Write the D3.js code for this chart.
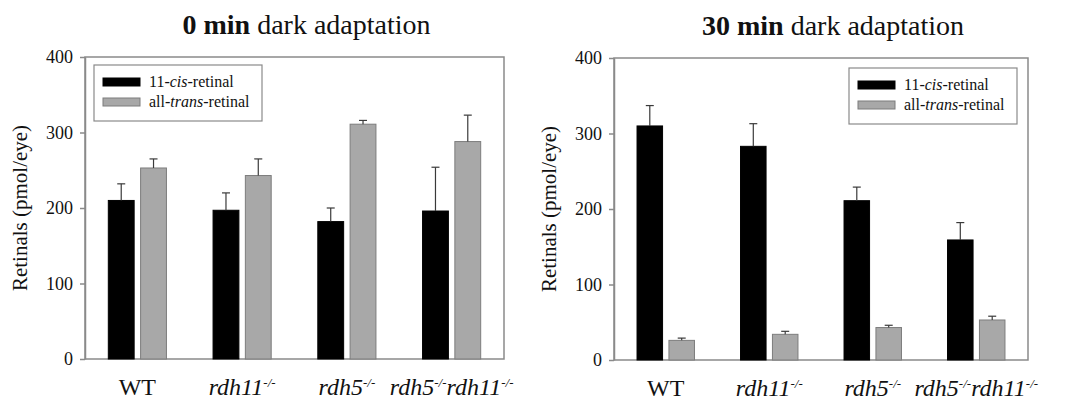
<!DOCTYPE html>
<html><head><meta charset="utf-8">
<script src="https://cdn.jsdelivr.net/npm/d3@7"></script>
<style>
body{margin:0;background:#fff;}
svg, svg text{font-family:"Liberation Serif","DejaVu Serif","Times New Roman",serif;}
</style></head>
<body><svg id="c" width="1073" height="403"></svg>
<script>
// ---- data ----
const categories = ["WT", "rdh11", "rdh5", "rdh5rdh11"];
const series = ["cis", "trans"];
const yTicks = [0, 100, 200, 300, 400];
// 0 min dark adaptation
const cis0 = [210, 197, 182, 196];
const cis0Err = [22, 23, 18, 58];
const trans0 = [253, 243, 311, 288];
const trans0Err = [12, 22, 5, 35];
// 30 min dark adaptation
const cis30 = [310, 283, 211, 159];
const cis30Err = [27, 30, 18, 23];
const trans30 = [26, 34, 43, 53];
const trans30Err = [3, 4, 3, 5];

const FONT = "Liberation Serif, DejaVu Serif, Times New Roman, serif";
const svg = d3.select("#c");
const colors = {cis: "#000000", trans: "#a8a8a8"};
const strokes = {cis: "#000000", trans: "#7d7d7d"};
const frameColor = "#8a8a8a";

// x label parts: [text, italic, superscript]
const xLabelParts = {
  WT: [["WT", false, false]],
  rdh11: [["rdh11", true, false], ["-/-", true, true]],
  rdh5: [["rdh5", true, false], ["-/-", true, true]],
  rdh5rdh11: [["rdh5", true, false], ["-/-", true, true], ["rdh11", true, false], ["-/-", true, true]]
};

function panel(opts) {
  const {x0, x1, y0, y1, cis, cisErr, trans, transErr, titleBold, legendX, legendY} = opts;
  const g = svg.append("g").attr("font-family", FONT);
  const y = d3.scaleLinear().domain([0, 400]).range([y1, y0]);
  const xb = d3.scaleBand().domain(categories).range([x0, x1]);
  const pairW = xb.bandwidth() * 0.555;
  const xs = d3.scaleBand().domain(series).range([0, pairW]).paddingInner(0.2);
  const off = (xb.bandwidth() - pairW) / 2;

  // frame
  g.append("rect").attr("x", x0).attr("y", y0).attr("width", x1 - x0).attr("height", y1 - y0)
    .attr("fill", "none").attr("stroke", frameColor).attr("stroke-width", 1.5);

  // y axis
  const ax = g.append("g").attr("transform", `translate(${x0},0)`)
    .call(d3.axisLeft(y).tickValues(yTicks).tickSize(5).tickSizeOuter(0).tickPadding(7));
  ax.attr("font-family", FONT).attr("font-size", 18);
  ax.select(".domain").attr("stroke", frameColor).attr("stroke-width", 1.5);
  ax.selectAll(".tick line").attr("stroke", frameColor).attr("stroke-width", 1.5);
  ax.selectAll(".tick text").attr("font-family", FONT).attr("font-size", 18).attr("fill", "#111");

  // y title
  g.append("text").attr("transform", `translate(${x0 - 58},${(y0 + y1) / 2}) rotate(-90)`)
    .attr("text-anchor", "middle").attr("font-family", FONT).attr("font-size", 21).attr("fill", "#111")
    .text("Retinals (pmol/eye)");

  // bars
  const data = [];
  categories.forEach((c, i) => {
    data.push({c, s: "cis", v: cis[i], e: cisErr[i]});
    data.push({c, s: "trans", v: trans[i], e: transErr[i]});
  });
  const bx = d => xb(d.c) + off + xs(d.s);
  g.selectAll(".bar").data(data).enter().append("rect")
    .attr("x", bx).attr("y", d => y(d.v)).attr("width", xs.bandwidth())
    .attr("height", d => y(0) - y(d.v))
    .attr("fill", d => colors[d.s]).attr("stroke", d => strokes[d.s]).attr("stroke-width", 1);
  // error bars (upper only)
  const eg = g.selectAll(".err").data(data).enter().append("g");
  eg.append("line").attr("x1", d => bx(d) + xs.bandwidth() / 2).attr("x2", d => bx(d) + xs.bandwidth() / 2)
    .attr("y1", d => y(d.v)).attr("y2", d => y(d.v + d.e)).attr("stroke", "#3a3a3a").attr("stroke-width", 1.2);
  eg.append("line").attr("x1", d => bx(d) + xs.bandwidth() / 2 - 4).attr("x2", d => bx(d) + xs.bandwidth() / 2 + 4)
    .attr("y1", d => y(d.v + d.e)).attr("y2", d => y(d.v + d.e)).attr("stroke", "#3a3a3a").attr("stroke-width", 1.2);

  // x labels
  categories.forEach(c => {
    const t = g.append("text").attr("x", xb(c) + xb.bandwidth() / 2).attr("y", y1 + 36)
      .attr("text-anchor", "middle").attr("font-family", FONT).attr("font-size", 24).attr("fill", "#111");
    xLabelParts[c].forEach(([txt, it, sup]) => {
      const ts = t.append("tspan").text(txt).attr("font-style", it ? "italic" : "normal");
      if (sup) ts.attr("font-size", 13).attr("baseline-shift", "60%");
    });
  });

  // title
  const tt = g.append("text").attr("x", (x0 + x1) / 2 + 12).attr("y", y0 - 23)
    .attr("text-anchor", "middle").attr("font-family", FONT).attr("font-size", 28).attr("fill", "#111");
  tt.append("tspan").attr("font-weight", "bold").text(titleBold);
  tt.append("tspan").text(" dark adaptation");

  // legend
  const lg = g.append("g").attr("transform", `translate(${legendX},${legendY})`);
  lg.append("rect").attr("width", 168).attr("height", 56).attr("fill", "#fff")
    .attr("stroke", frameColor).attr("stroke-width", 1.2);
  const items = [
    {s: "cis", parts: [["11-", false], ["cis", true], ["-retinal", false]]},
    {s: "trans", parts: [["all-", false], ["trans", true], ["-retinal", false]]}
  ];
  items.forEach((it, i) => {
    lg.append("rect").attr("x", 9).attr("y", 13 + i * 20).attr("width", 37).attr("height", 8)
      .attr("fill", colors[it.s]).attr("stroke", strokes[it.s]).attr("stroke-width", 1);
    const t = lg.append("text").attr("x", 55).attr("y", 22 + i * 20).attr("font-family", FONT)
      .attr("font-size", 16).attr("fill", "#111");
    it.parts.forEach(([txt, ital]) => t.append("tspan").text(txt).attr("font-style", ital ? "italic" : "normal"));
  });
}

panel({x0: 85, x1: 504, y0: 57, y1: 359, cis: cis0, cisErr: cis0Err, trans: trans0, transErr: trans0Err,
  titleBold: "0 min", legendX: 94, legendY: 65});
panel({x0: 614, x1: 1028, y0: 58, y1: 360, cis: cis30, cisErr: cis30Err, trans: trans30, transErr: trans30Err,
  titleBold: "30 min", legendX: 849, legendY: 68});
</script></body></html>
